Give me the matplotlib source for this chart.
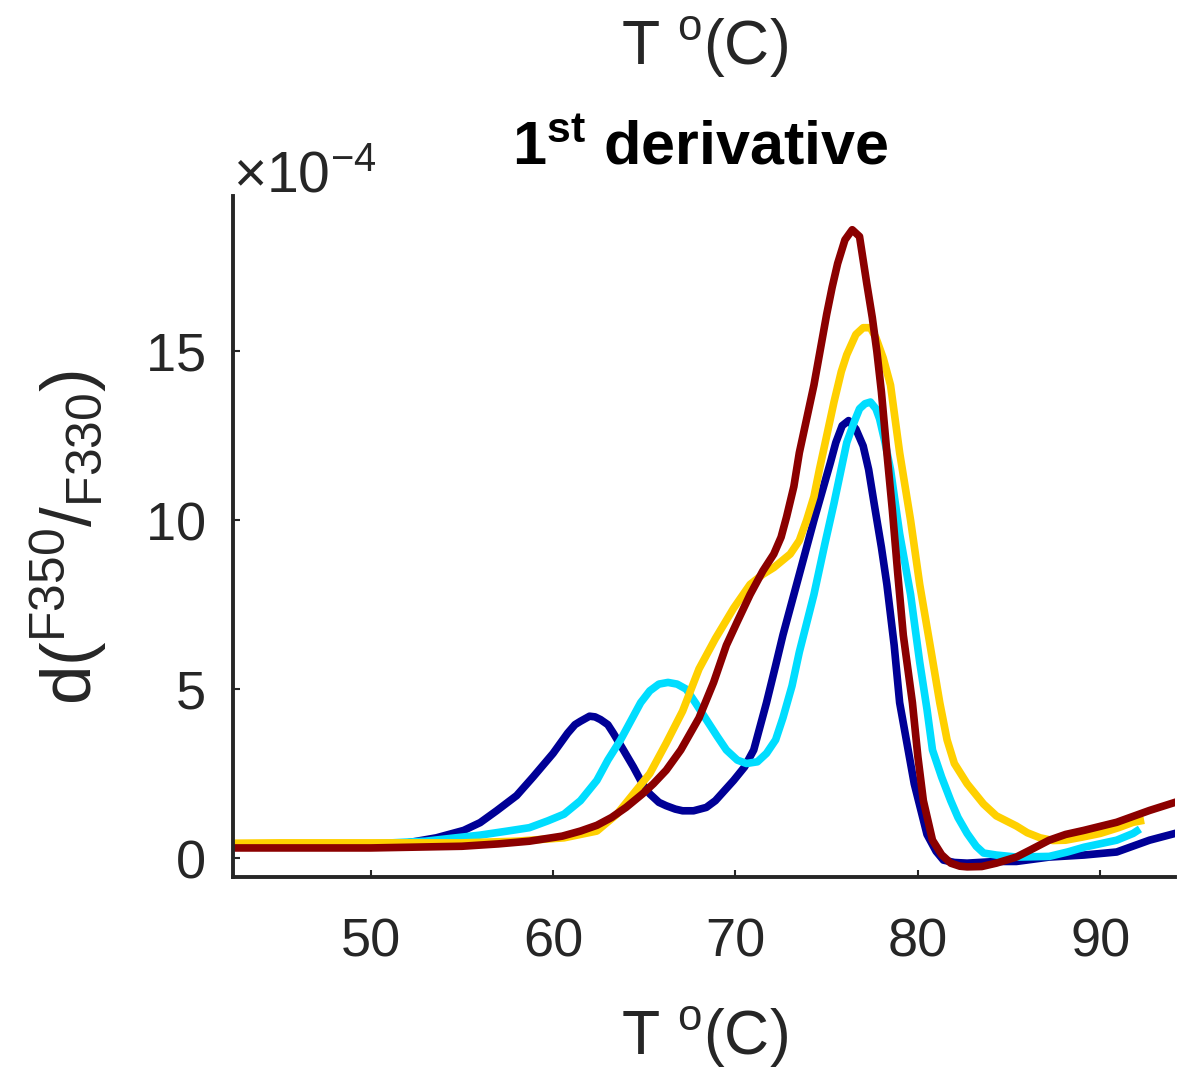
import numpy as np
import matplotlib
matplotlib.use("Agg")
import matplotlib.pyplot as plt
from matplotlib.ticker import ScalarFormatter

# first derivative of the F350/F330 ratio, read in units of 1e-4
T_navy = [42.5, 45, 48, 50, 52, 53.6, 55.1, 56.0, 56.9, 58.0, 58.9, 60.0, 60.8, 61.2,
          61.5, 62.0, 62.3, 62.6, 63.0, 63.3, 63.8, 64.4, 64.9, 65.3, 65.8, 66.2, 66.7,
          67.1, 67.7, 68.4, 68.9, 69.4, 69.9, 70.5, 71.0, 71.3, 71.7, 72.2, 72.6, 73.5,
          74.3, 75.2, 75.5, 75.85, 76.2, 76.6, 77.0, 77.3, 77.6, 78.0, 78.3, 78.7, 79.0,
          79.8, 80.5, 81.0, 81.4, 82.0, 82.7, 84.3, 85.4, 87.2, 89.1, 90.9, 92.7, 94.1]
d_navy = [0.35, 0.38, 0.38, 0.38, 0.45, 0.6, 0.82, 1.05, 1.4, 1.85, 2.4, 3.1, 3.7, 3.95,
          4.05, 4.2, 4.18, 4.1, 3.95, 3.7, 3.25, 2.7, 2.2, 1.9, 1.65, 1.55, 1.45,
          1.4, 1.4, 1.5, 1.7, 2.0, 2.3, 2.7, 3.2, 3.8, 4.6, 5.7, 6.6, 8.4,
          10.0, 11.7, 12.3, 12.8, 12.95, 12.7, 12.2, 11.5, 10.5, 9.2, 8.1, 6.3, 4.6,
          2.2, 0.7, 0.2, -0.06, -0.13, -0.15, -0.1, -0.1, 0.03, 0.09, 0.18, 0.53, 0.73]

T_cyan = [42.5, 45, 50, 53, 56, 57.5, 58.7, 59.7, 60.6, 61.5, 62.4, 63.0, 63.7, 64.3,
          64.8, 65.3, 65.8, 66.3, 66.8, 67.3, 67.8, 68.4, 69.0, 69.5, 70.1, 70.6, 71.2,
          71.7, 72.2, 72.6, 73.1, 73.5, 74.3, 74.9, 75.4, 76.1, 76.5, 76.8, 77.1, 77.4,
          77.7, 77.9, 78.2, 78.5, 79.0, 79.6, 80.1, 80.5, 80.8, 81.3, 81.8, 82.2, 82.7,
          83.2, 83.6, 84.3, 85.4, 87.2, 88.2, 89.1, 90.9, 91.8, 92.0]
d_cyan = [0.35, 0.38, 0.42, 0.5, 0.68, 0.8, 0.9, 1.1, 1.3, 1.7, 2.3, 2.9, 3.5, 4.1,
          4.6, 4.95, 5.15, 5.2, 5.15, 5.0, 4.6, 4.1, 3.6, 3.2, 2.9, 2.8, 2.85,
          3.1, 3.5, 4.15, 5.1, 6.1, 7.8, 9.3, 10.5, 12.3, 12.9, 13.3, 13.45, 13.5,
          13.3, 13.0, 12.3, 11.5, 9.6, 7.8, 5.8, 4.4, 3.2, 2.4, 1.7, 1.2, 0.73,
          0.35, 0.15, 0.09, 0.03, 0.05, 0.18, 0.32, 0.53, 0.73, 0.8]

T_gold = [42.5, 45, 50, 55, 58, 60.6, 62.4, 63.5, 64.4, 65.3, 66.2, 67.1, 68.0, 68.9,
          69.9, 70.8, 71.5, 72.1, 73.0, 73.5, 73.9, 74.3, 74.6, 75.0, 75.4, 75.8, 76.1,
          76.6, 77.0, 77.4, 77.7, 78.1, 78.5, 79.0, 79.6, 80.1, 80.7, 81.2, 81.6, 82.0,
          82.7, 83.6, 84.3, 85.4, 86.0, 86.7, 87.4, 88.1, 89.0, 90.0, 91.0, 91.8, 92.2]
d_gold = [0.44, 0.45, 0.45, 0.45, 0.5, 0.6, 0.8, 1.3, 1.9, 2.5, 3.4, 4.35, 5.6, 6.5,
          7.4, 8.1, 8.4, 8.6, 9.0, 9.4, 10.0, 10.7, 11.5, 12.5, 13.5, 14.4, 14.9,
          15.5, 15.7, 15.7, 15.4, 14.8, 14.0, 12.0, 10.0, 8.1, 6.2, 4.6, 3.5, 2.8,
          2.2, 1.6, 1.25, 0.95, 0.75, 0.6, 0.52, 0.53, 0.62, 0.73, 0.9, 1.06, 1.1]

T_red = [42.5, 45, 50, 55, 57, 58.7, 60.5, 61.5, 62.4, 63.2, 64.0, 64.9, 65.5, 66.2,
         67.0, 68.0, 68.8, 69.5, 70.1, 70.8, 71.5, 72.1, 72.5, 72.8, 73.2, 73.5, 73.9,
         74.3, 74.7, 75.0, 75.3, 75.6, 76.0, 76.4, 76.8, 77.2, 77.5, 77.75, 78.0, 78.3,
         78.6, 78.9, 79.2, 79.7, 80.0, 80.3, 80.8, 81.3, 81.8, 82.3, 82.7, 83.5, 84.3,
         85.4, 86.2, 87.2, 88.1, 89.1, 90.9, 92.7, 94.1]
d_red = [0.3, 0.3, 0.3, 0.35, 0.42, 0.5, 0.65, 0.8, 0.97, 1.2, 1.5, 1.9, 2.2, 2.6,
         3.2, 4.15, 5.2, 6.3, 7.0, 7.8, 8.5, 9.0, 9.5, 10.1, 11.0, 12.0, 13.0,
         14.0, 15.2, 16.1, 16.9, 17.6, 18.3, 18.6, 18.4, 17.0, 16.0, 15.0, 13.8, 12.0,
         10.3, 8.4, 6.6, 4.6, 3.0, 1.7, 0.53, 0.1, -0.15, -0.24, -0.26, -0.25, -0.15,
         0.03, 0.25, 0.53, 0.7, 0.82, 1.06, 1.41, 1.65]

SERIES = [(T_navy, d_navy, "#000096"),
          (T_cyan, d_cyan, "#00DDFF"),
          (T_gold, d_gold, "#FFD000"),
          (T_red, d_red, "#8B0000")]

XTICKS = [50, 60, 70, 80, 90]
YTICKS = [0, 5e-4, 10e-4, 15e-4]

plt.rcParams.update({"font.family": ["Liberation Sans", "DejaVu Sans"],
                     "mathtext.fontset": "custom",
                     "mathtext.rm": "Liberation Sans",
                     "mathtext.it": "Liberation Sans:italic",
                     "mathtext.bf": "Liberation Sans:bold"})
AX_COL = "#262626"

fig = plt.figure(figsize=(11.78, 10.72), dpi=100)
ax = fig.add_axes([0.1978, 0.1819, 0.7997, 0.6353])

for T, d, c in SERIES:
    ax.plot(T, np.array(d) * 1e-4, color=c, lw=5.5, solid_joinstyle="round")

ax.set_xlim(42.45, 94.1)
ax.set_ylim(-0.56e-4, 19.6e-4)
ax.set_xticks(XTICKS)
ax.set_yticks(YTICKS)

fmt = ScalarFormatter(useMathText=True)
fmt.set_powerlimits((-4, -4))
ax.yaxis.set_major_formatter(fmt)
ax.yaxis.get_offset_text().set_fontsize(41)
ax.yaxis.get_offset_text().set_color(AX_COL)

for s in ("top", "right"):
    ax.spines[s].set_visible(False)
for s in ("left", "bottom"):
    ax.spines[s].set_linewidth(2.8)
    ax.spines[s].set_color(AX_COL)
ax.tick_params(direction="in", length=5, width=1.5, color=AX_COL,
               labelsize=39, labelcolor=AX_COL)
ax.tick_params(axis="x", pad=29)
ax.tick_params(axis="y", pad=20)

fig.text(0.5976, 0.9394, r"T $^{\mathrm{o}}$(C)", fontsize=45, ha="center",
         va="baseline", color=AX_COL)
fig.text(0.5947, 0.8461, r"1$^{\mathbf{st}}$ derivative", fontsize=44,
         fontweight="bold", ha="center", va="baseline", color="black")
fig.text(0.5976, 0.016, r"T $^{\mathrm{o}}$(C)", fontsize=45, ha="center",
         va="baseline", color=AX_COL)
fig.text(0.058, 0.499, r"d($^{\mathrm{F350}}/_{\mathrm{F330}}$)", fontsize=51,
         rotation=90, ha="center", va="center", color=AX_COL)

fig.savefig("out.png", dpi=100)
